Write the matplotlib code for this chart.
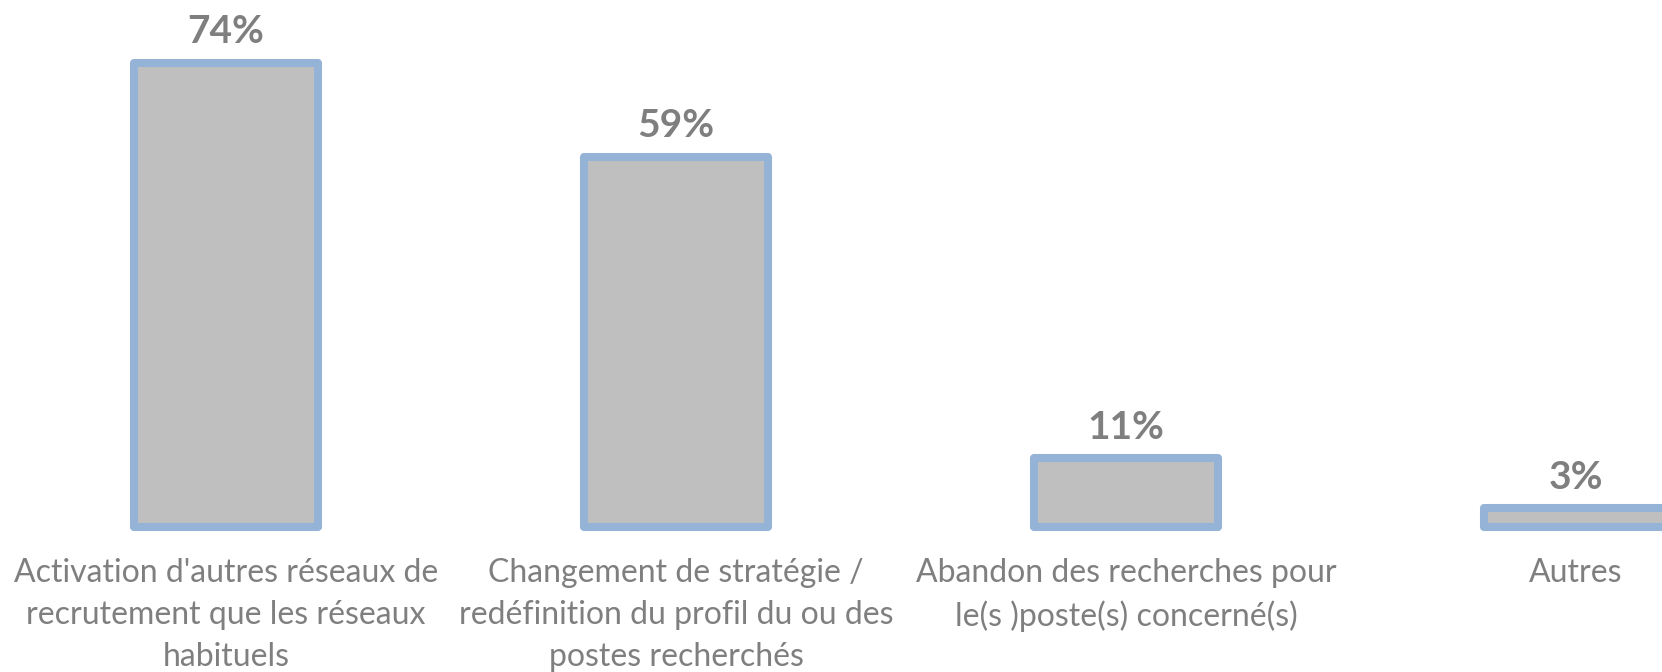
import numpy as np
import matplotlib.pyplot as plt

# data
categories = [
    "Activation d'autres réseaux de\nrecrutement que les réseaux\nhabituels",
    "Changement de stratégie /\nredéfinition du profil du ou des\npostes recherchés",
    "Abandon des recherches pour\nle(s )poste(s) concerné(s)",
    "Autres",
]
values = [74, 59, 11, 3]
value_labels = ["74%", "59%", "11%", "3%"]

plt.rcParams['font.family'] = ['Lato', 'DejaVu Sans']

fig = plt.figure(figsize=(16.62, 6.72), dpi=100)
ax = fig.add_axes([0, 0, 1, 1])

x = np.arange(len(values))
ax.bar(x, values, width=0.41, color="#BFBFBF", edgecolor="#95B3D7",
       linewidth=5.8, joinstyle="round")

for xi, v, lab in zip(x, values, value_labels):
    ax.annotate(lab, (xi, v), xytext=(0, 14), textcoords="offset points",
                ha="center", va="baseline", fontsize=28, fontweight="bold",
                color="#7F7F7F")

# category names under the bars
for xi, cat in zip(x, categories):
    ax.annotate(cat, (xi, 0), xytext=(0, -22), textcoords="offset points",
                ha="center", va="top", fontsize=23, color="#7F7F7F",
                linespacing=1.5)

ax.set_xticks([])
ax.set_yticks([])
ax.set_xlim(-0.502, 3.191)
ax.set_ylim(-23.1, 84.0)
for s in ax.spines.values():
    s.set_visible(False)

fig.savefig("out.png", dpi=100)
